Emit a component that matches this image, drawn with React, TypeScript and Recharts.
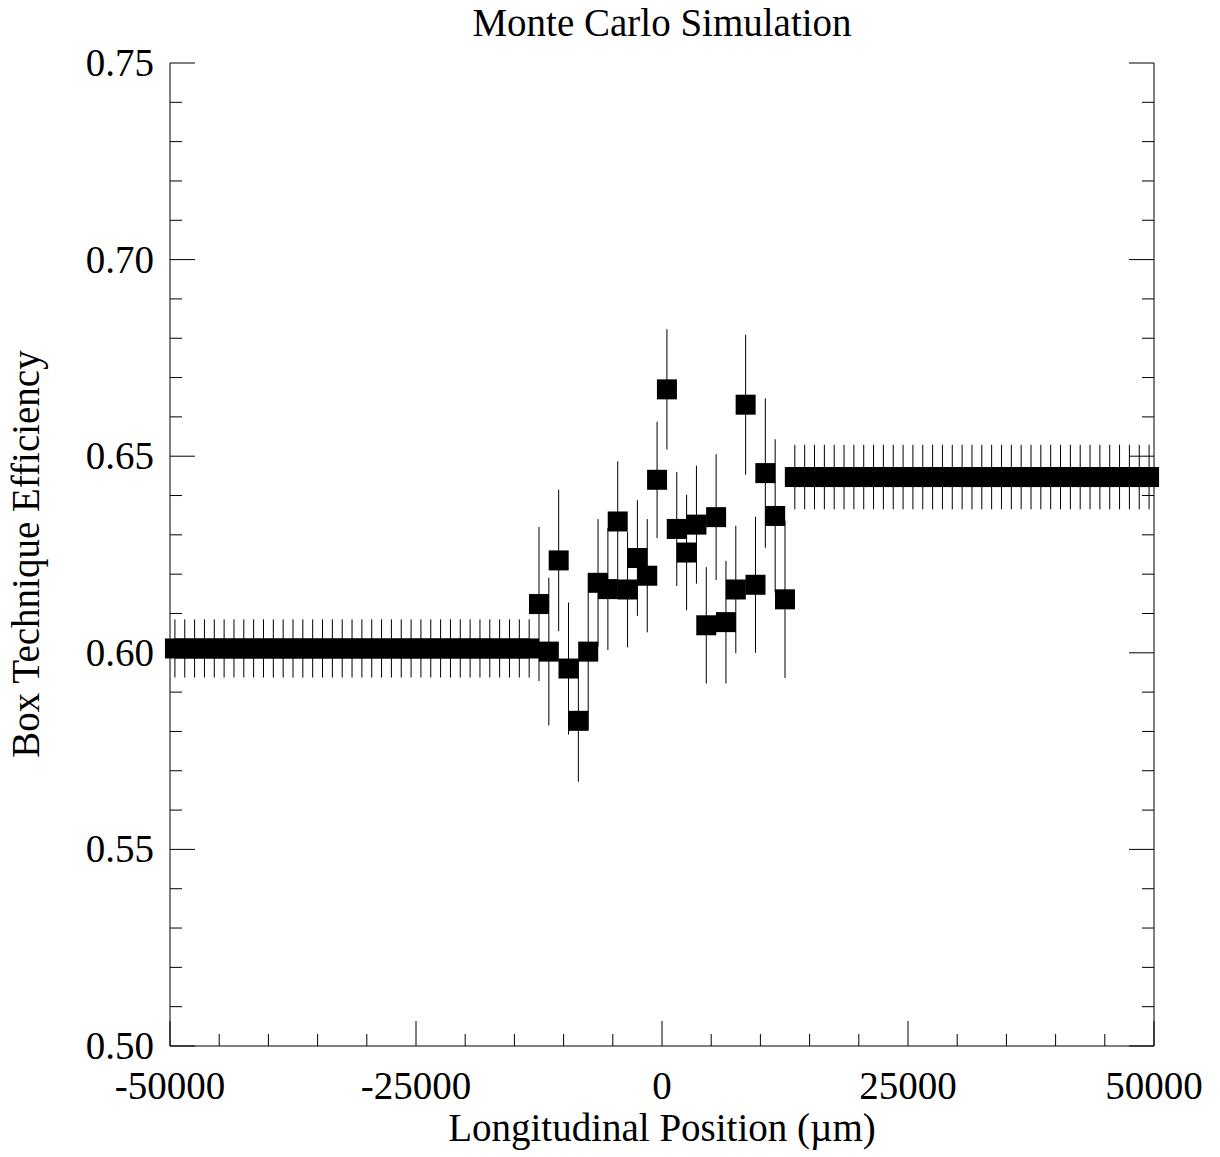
import React from 'react';
import { ScatterChart, Scatter, XAxis, YAxis, ErrorBar } from 'recharts';

const FONT = '"Liberation Serif", "Times New Roman", Times, serif';

// Flat region at negative positions
const leftX = [-49500, -48500, -47500, -46500, -45500, -44500, -43500, -42500, -41500, -40500, -39500, -38500, -37500, -36500, -35500, -34500, -33500, -32500, -31500, -30500, -29500, -28500, -27500, -26500, -25500, -24500, -23500, -22500, -21500, -20500, -19500, -18500, -17500, -16500, -15500, -14500, -13500];
const leftY = [0.6011, 0.6011, 0.6011, 0.6011, 0.6011, 0.6011, 0.6011, 0.6011, 0.6011, 0.6011, 0.6011, 0.6011, 0.6011, 0.6011, 0.6011, 0.6011, 0.6011, 0.6011, 0.6011, 0.6011, 0.6011, 0.6011, 0.6011, 0.6011, 0.6011, 0.6011, 0.6011, 0.6011, 0.6011, 0.6011, 0.6011, 0.6011, 0.6011, 0.6011, 0.6011, 0.6011, 0.6011];
const leftErr = [0.0074, 0.0074, 0.0074, 0.0074, 0.0074, 0.0074, 0.0074, 0.0074, 0.0074, 0.0074, 0.0074, 0.0074, 0.0074, 0.0074, 0.0074, 0.0074, 0.0074, 0.0074, 0.0074, 0.0074, 0.0074, 0.0074, 0.0074, 0.0074, 0.0074, 0.0074, 0.0074, 0.0074, 0.0074, 0.0074, 0.0074, 0.0074, 0.0074, 0.0074, 0.0074, 0.0074, 0.0074];

// Central region
const centerX = [-12500, -11500, -10500, -9500, -8500, -7500, -6500, -5500, -4500, -3500, -2500, -1500, -500, 500, 1500, 2500, 3500, 4500, 5500, 6500, 7500, 8500, 9500, 10500, 11500, 12500];
const centerY = [0.6124, 0.6003, 0.6235, 0.596, 0.5827, 0.6003, 0.6178, 0.6162, 0.6334, 0.6161, 0.6241, 0.6196, 0.644, 0.667, 0.6315, 0.6255, 0.6326, 0.607, 0.6345, 0.6078, 0.6161, 0.6631, 0.6173, 0.6457, 0.6348, 0.6136];
const centerErr = [0.0196, 0.0188, 0.018, 0.0168, 0.0155, 0.02, 0.0162, 0.0155, 0.0153, 0.0147, 0.0147, 0.0144, 0.0148, 0.0153, 0.0145, 0.0147, 0.015, 0.0148, 0.016, 0.0156, 0.0162, 0.0178, 0.0173, 0.019, 0.0195, 0.02];

// Flat region at positive positions
const rightX = [13500, 14500, 15500, 16500, 17500, 18500, 19500, 20500, 21500, 22500, 23500, 24500, 25500, 26500, 27500, 28500, 29500, 30500, 31500, 32500, 33500, 34500, 35500, 36500, 37500, 38500, 39500, 40500, 41500, 42500, 43500, 44500, 45500, 46500, 47500, 48500, 49500];
const rightY = [0.6447, 0.6447, 0.6447, 0.6447, 0.6447, 0.6447, 0.6447, 0.6447, 0.6447, 0.6447, 0.6447, 0.6447, 0.6447, 0.6447, 0.6447, 0.6447, 0.6447, 0.6447, 0.6447, 0.6447, 0.6447, 0.6447, 0.6447, 0.6447, 0.6447, 0.6447, 0.6447, 0.6447, 0.6447, 0.6447, 0.6447, 0.6447, 0.6447, 0.6447, 0.6447, 0.6447, 0.6447];
const rightErr = [0.0082, 0.0082, 0.0082, 0.0082, 0.0082, 0.0082, 0.0082, 0.0082, 0.0082, 0.0082, 0.0082, 0.0082, 0.0082, 0.0082, 0.0082, 0.0082, 0.0082, 0.0082, 0.0082, 0.0082, 0.0082, 0.0082, 0.0082, 0.0082, 0.0082, 0.0082, 0.0082, 0.0082, 0.0082, 0.0082, 0.0082, 0.0082, 0.0082, 0.0082, 0.0082, 0.0082, 0.0082];

const xTicks = [-50000, -45000, -40000, -35000, -30000, -25000, -20000, -15000, -10000, -5000, 0, 5000, 10000, 15000, 20000, 25000, 30000, 35000, 40000, 45000, 50000];
const yTicks = [0.5, 0.51, 0.52, 0.53, 0.54, 0.55, 0.56, 0.57, 0.58, 0.59, 0.6, 0.61, 0.62, 0.63, 0.64, 0.65, 0.66, 0.67, 0.68, 0.69, 0.7, 0.71, 0.72, 0.73, 0.74, 0.75];

const TITLE = 'Monte Carlo Simulation';
const X_LABEL = 'Longitudinal Position (\u00b5m)';
const Y_LABEL = 'Box Technique Efficiency';

const rows = [
  ...leftX.map((x, i) => ({ x, y: leftY[i], err: leftErr[i] })),
  ...centerX.map((x, i) => ({ x, y: centerY[i], err: centerErr[i] })),
  ...rightX.map((x, i) => ({ x, y: rightY[i], err: rightErr[i] })),
];

const isMajorX = (v: number) => v % 25000 === 0;
const isMajorY = (v: number) => Math.round(v * 100) % 5 === 0;

const BottomTick = (props: any) => {
  const { x, y, payload } = props;
  const v = payload.value;
  const major = isMajorX(v);
  return (
    <g>
      <line x1={x} y1={y} x2={x} y2={y - (major ? 25 : 12)} stroke="#000" strokeWidth={1} />
      {major && (
        <text x={x} y={y + 53} textAnchor="middle" fontSize={39} fontFamily={FONT} fill="#000">
          {String(v)}
        </text>
      )}
    </g>
  );
};

const TopTick = (props: any) => {
  const { x, y, payload } = props;
  const major = isMajorX(payload.value);
  return <line x1={x} y1={y} x2={x} y2={y + (major ? 25 : 12)} stroke="#000" strokeWidth={1} />;
};

const LeftTick = (props: any) => {
  const { x, y, payload } = props;
  const v = payload.value;
  const major = isMajorY(v);
  return (
    <g>
      <line x1={x} y1={y} x2={x + (major ? 25 : 12)} y2={y} stroke="#000" strokeWidth={1} />
      {major && (
        <text x={x - 16} y={y + 13} textAnchor="end" fontSize={39} fontFamily={FONT} fill="#000">
          {v.toFixed(2)}
        </text>
      )}
    </g>
  );
};

const RightTick = (props: any) => {
  const { x, y, payload } = props;
  const major = isMajorY(payload.value);
  return <line x1={x} y1={y} x2={x - (major ? 25 : 12)} y2={y} stroke="#000" strokeWidth={1} />;
};

const Square = (props: any) => {
  const { cx, cy } = props;
  if (cx == null || cy == null) return null;
  return <rect x={cx - 10} y={cy - 10} width={20} height={20} fill="#000" />;
};

export default function App() {
  const W = 1220;
  const H = 1157;
  return (
    <div style={{ position: 'absolute', left: 0, top: 0, width: W, height: H, background: '#fff' }}>
      <ScatterChart width={W} height={H} margin={{ top: 63, right: 65, bottom: 51, left: 0 }}>
        <XAxis
          xAxisId={0}
          dataKey="x"
          type="number"
          domain={[-50000, 50000]}
          ticks={xTicks}
          interval={0}
          tickSize={0}
          tickMargin={0}
          tickLine={false}
          tick={<BottomTick />}
          height={60}
          axisLine={{ stroke: '#000', strokeWidth: 1 }}
        />
        <XAxis
          xAxisId="top"
          orientation="top"
          type="number"
          domain={[-50000, 50000]}
          allowDataOverflow
          ticks={xTicks}
          interval={0}
          tickSize={0}
          tickMargin={0}
          tickLine={false}
          tick={<TopTick />}
          height={0}
          axisLine={{ stroke: '#000', strokeWidth: 1 }}
        />
        <YAxis
          yAxisId={0}
          dataKey="y"
          type="number"
          domain={[0.5, 0.75]}
          ticks={yTicks}
          interval={0}
          tickSize={0}
          tickMargin={0}
          tickLine={false}
          tick={<LeftTick />}
          width={170}
          axisLine={{ stroke: '#000', strokeWidth: 1 }}
        />
        <YAxis
          yAxisId="right"
          orientation="right"
          type="number"
          domain={[0.5, 0.75]}
          allowDataOverflow
          ticks={yTicks}
          interval={0}
          tickSize={0}
          tickMargin={0}
          tickLine={false}
          tick={<RightTick />}
          width={1}
          axisLine={{ stroke: '#000', strokeWidth: 1 }}
        />
        <Scatter data={rows} xAxisId={0} yAxisId={0} shape={<Square />} fill="#000" isAnimationActive={false}>
          <ErrorBar dataKey="err" direction="y" width={0} stroke="#000" strokeWidth={1} isAnimationActive={false} />
        </Scatter>
      </ScatterChart>
      <svg width={W} height={H} style={{ position: 'absolute', left: 0, top: 0, pointerEvents: 'none' }}>
        <text x={662} y={36} textAnchor="middle" fontSize={39} fontFamily={FONT} fill="#000">
          {TITLE}
        </text>
        <text x={662} y={1141} textAnchor="middle" fontSize={39} fontFamily={FONT} fill="#000">
          {X_LABEL}
        </text>
        <text
          x={39}
          y={554}
          textAnchor="middle"
          fontSize={39}
          fontFamily={FONT}
          fill="#000"
          transform="rotate(-90, 39, 554)"
        >
          {Y_LABEL}
        </text>
      </svg>
    </div>
  );
}
